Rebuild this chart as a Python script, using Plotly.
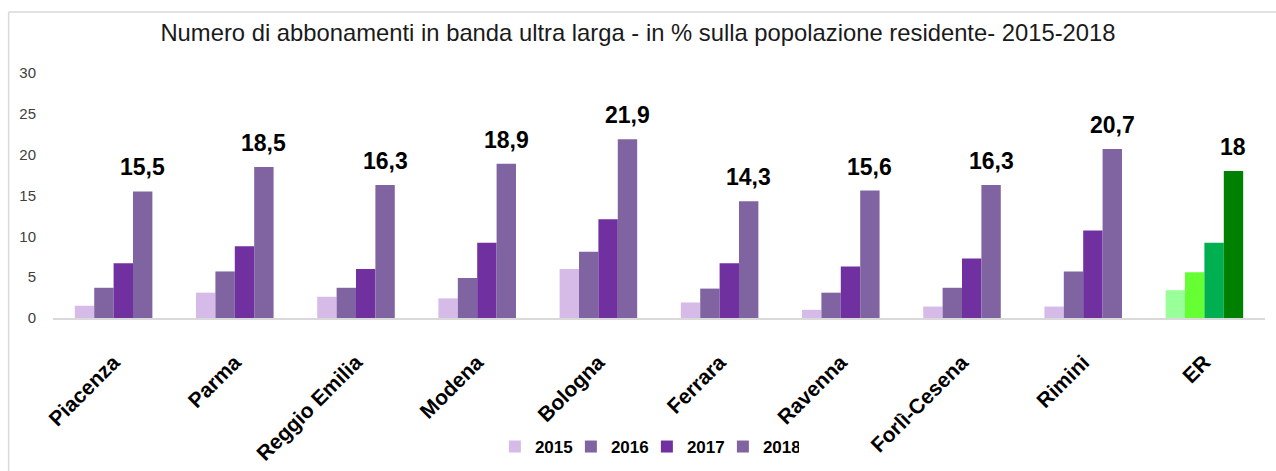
import plotly.graph_objects as go

# dati (% abbonamenti BUL sulla popolazione residente)
province = ["Piacenza", "Parma", "Reggio Emilia", "Modena", "Bologna",
            "Ferrara", "Ravenna", "Forlì-Cesena", "Rimini", "ER"]
anni = ["2015", "2016", "2017", "2018"]
v2015 = [1.5, 3.1, 2.6, 2.4, 6.0, 1.9, 1.0, 1.4, 1.4, 3.4]
v2016 = [3.7, 5.7, 3.7, 4.9, 8.1, 3.6, 3.1, 3.7, 5.7, 5.6]
v2017 = [6.7, 8.8, 6.0, 9.2, 12.1, 6.7, 6.3, 7.3, 10.7, 9.2]
v2018 = [15.5, 18.5, 16.3, 18.9, 21.9, 14.3, 15.6, 16.3, 20.7, 18.0]

colori_prov = ["#D6BAE8", "#8064A2", "#7030A0", "#8064A2"]
colori_er = ["#99FF99", "#66FF33", "#00B050", "#008000"]

serie = [v2015, v2016, v2017, v2018]

fig = go.Figure()
for k, anno in enumerate(anni):
    colori = [colori_prov[k]] * (len(province) - 1) + [colori_er[k]]
    fig.add_trace(go.Bar(
        x=province,
        y=serie[k],
        name=anno,
        marker=dict(color=colori, line=dict(width=0)),
    ))

# etichette solo sul 2018, formato con virgola
def fmt(v):
    return ("%g" % v).replace(".", ",")

offset = 1.5 * 0.64 / 4
for i, v in enumerate(v2018):
    fig.add_annotation(
        x=i + offset, y=v, text="<b>" + fmt(v) + "</b>",
        showarrow=False, yanchor="bottom", yshift=9,
        font=dict(family="Liberation Sans", size=23, color="#000000"),
    )

fig.update_layout(
    width=1276, height=471,
    margin=dict(l=53, r=11, t=73, b=153),
    paper_bgcolor="white", plot_bgcolor="white",
    barmode="group", bargap=0.36, bargroupgap=0,
    title=dict(
        text="Numero di abbonamenti in banda ultra larga - in % sulla popolazione residente- 2015-2018",
        x=0.5, xanchor="center", xref="container",
        y=0.930, yanchor="middle", yref="container",
        font=dict(family="Liberation Sans", size=23.8, color="#1a1a1a"),
    ),
    font=dict(family="Liberation Sans"),
    showlegend=True,
    legend=dict(
        orientation="h", x=0.49, xanchor="center",
        y=0.051, yanchor="middle", yref="container",
        font=dict(size=17, color="#000000", weight="bold"),
        traceorder="normal", itemwidth=30, entrywidth=31,
    ),
    shapes=[
        dict(type="line", xref="paper", yref="paper", x0=-0.0366, x1=1.01, y0=1.249, y1=1.249,
             line=dict(color="#D9D9D9", width=1.5)),
        dict(type="line", xref="paper", yref="paper", x0=-0.0366, x1=-0.0366, y0=1.249, y1=-0.65,
             line=dict(color="#D9D9D9", width=1.5)),
    ],
)

fig.update_xaxes(
    type="category",
    tickangle=-45,
    tickfont=dict(size=21, color="#000000", weight="bold"),
    showline=True, linecolor="#D9D9D9", linewidth=1.5,
    showgrid=False, ticks="", automargin=False, ticklabelstandoff=22,
)
fig.update_yaxes(
    range=[0, 30], dtick=5,
    tickfont=dict(size=15, color="#404040"),
    showgrid=False, zeroline=False, showline=False,
    ticks="", ticklabelstandoff=16, automargin=False,
)

# niente margine del body, la figura parte da (0,0)
fig.write_html("out.html", config={"displayModeBar": False},
               post_script="document.body.style.margin='0';")
